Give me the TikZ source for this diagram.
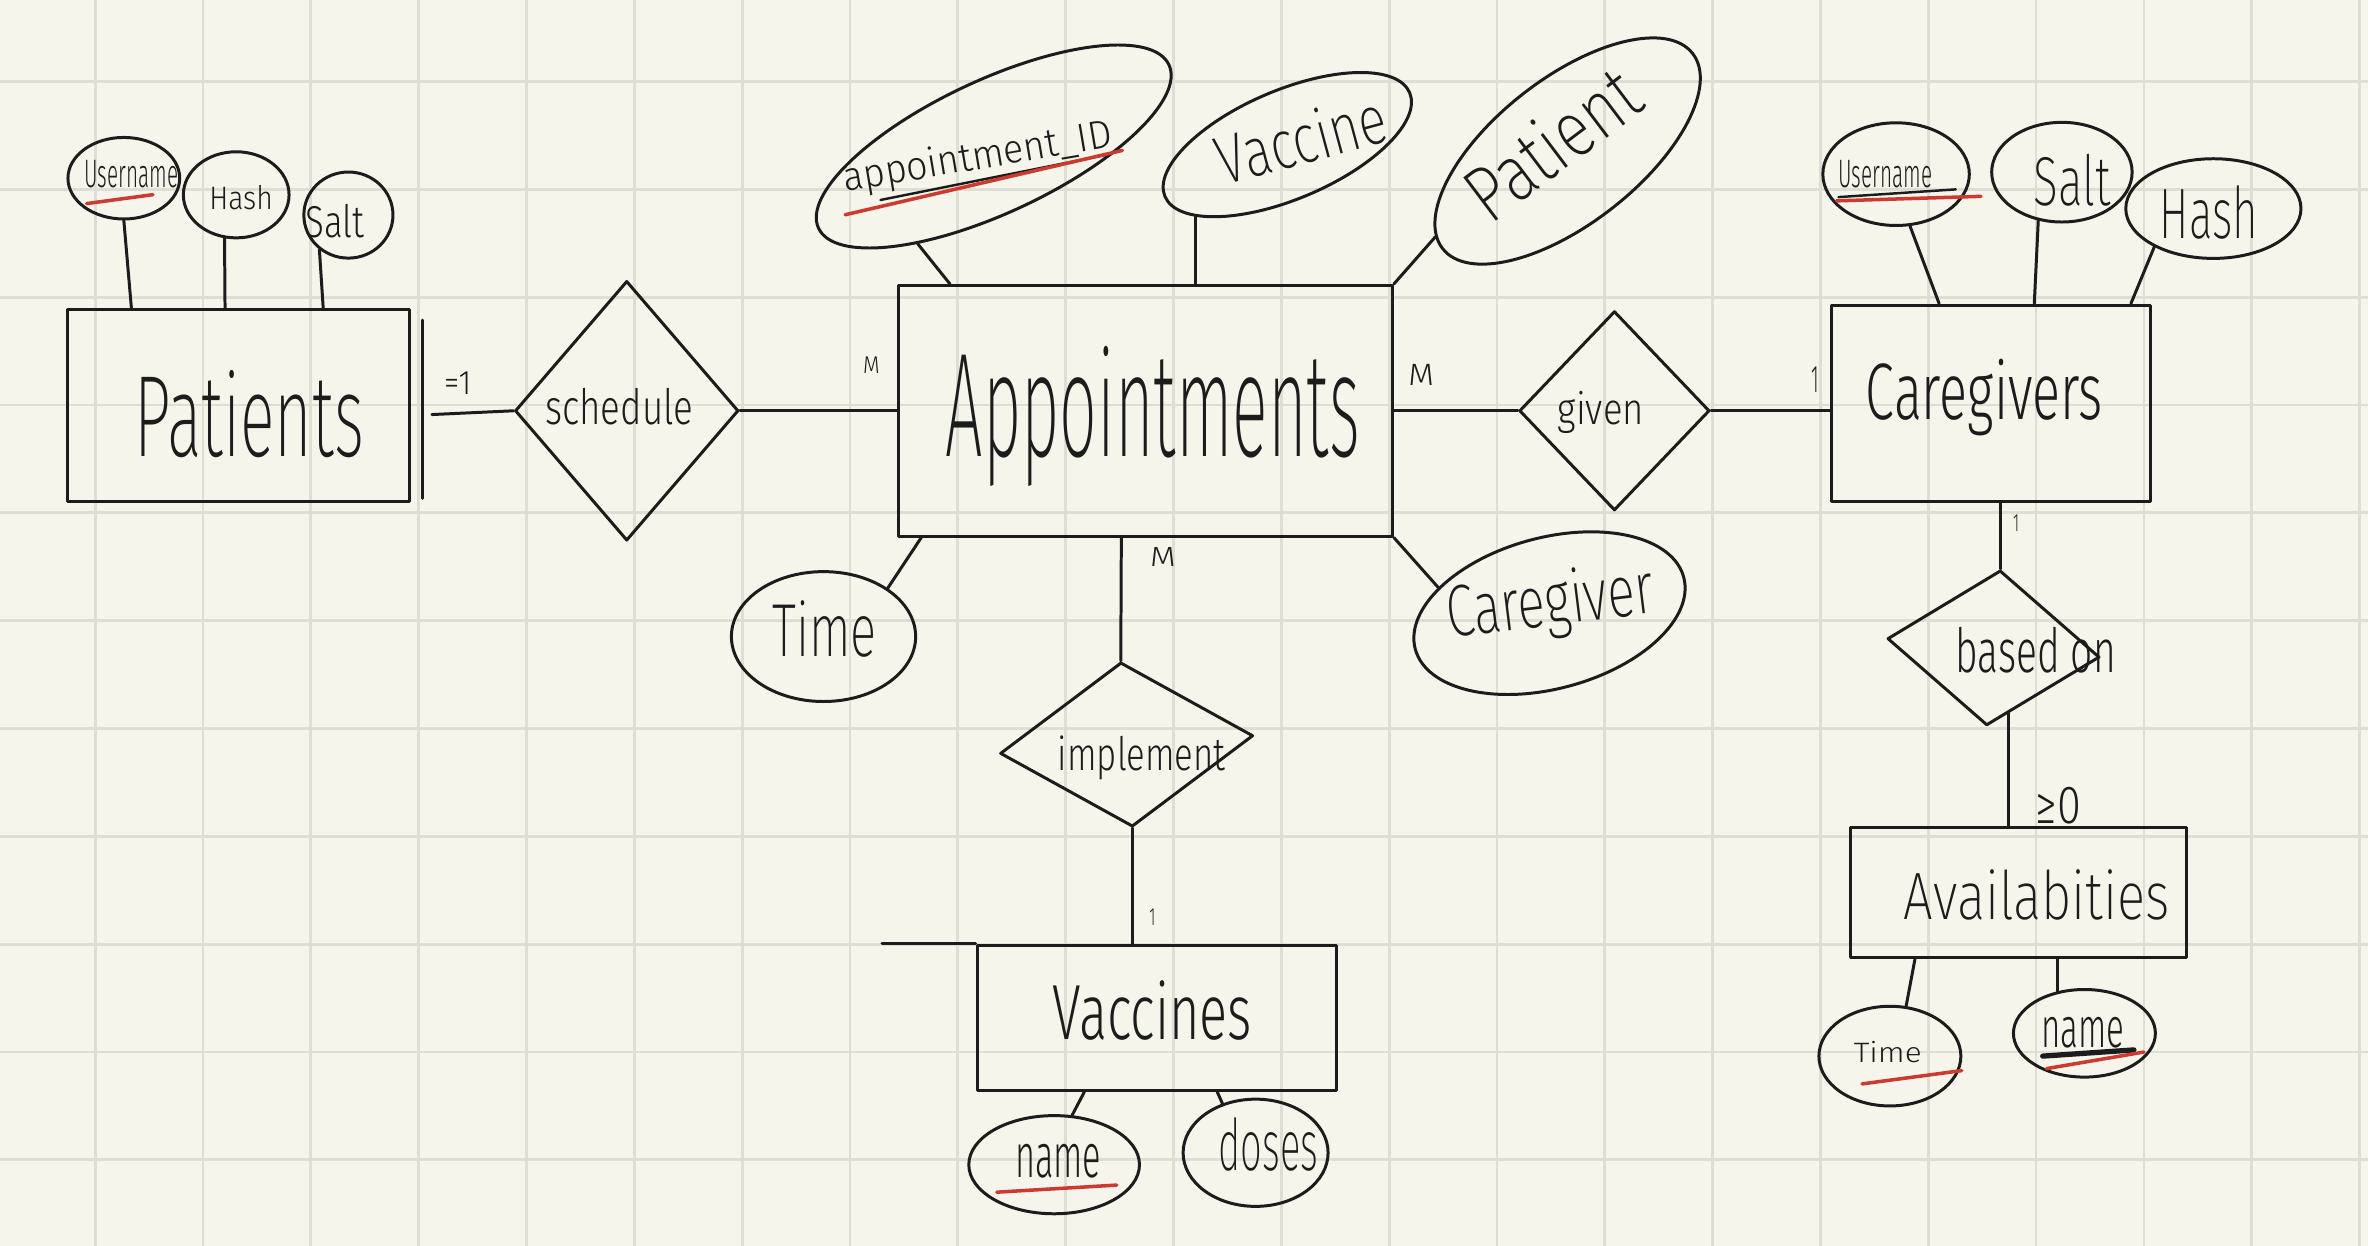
\documentclass[tikz,border=0pt]{standalone}
\usepackage{fontspec}
\usepackage{graphicx}
\usetikzlibrary{shapes.geometric}
\setmainfont{Fira Sans}
\newcommand{\pickfont}[3]{\IfFontExistsTF{#2}{\newfontfamily#1{#2}}{#3}}
\pickfont\fLight{Fira Sans Light}{%
 \pickfont\fLight{FiraSans-Light.otf}{%
  \pickfont\fLight{Lato Light}{%
   \pickfont\fLight{Poppins Light}{%
    \pickfont\fLight{DejaVu Sans ExtraLight}{%
     \newfontfamily\fLight{Fira Sans}}}}}}
\pickfont\fXL{Fira Sans ExtraLight}{%
 \pickfont\fXL{FiraSans-ExtraLight.otf}{%
  \pickfont\fXL{Lato Thin}{%
   \pickfont\fXL{Poppins ExtraLight}{%
    \pickfont\fXL{DejaVu Sans ExtraLight}{%
     \let\fXL\fLight}}}}}
\newlength{\pxu}\setlength{\pxu}{0.015102cm}
\newcommand{\hw}[3]{\resizebox{#1\pxu}{#2\pxu}{#3}}
\definecolor{paper}{HTML}{F6F5EC}
\definecolor{gridc}{HTML}{DFDED4}
\definecolor{inkc}{HTML}{1C1C1C}
\definecolor{redc}{HTML}{CC3A30}
\tikzset{
 pen/.style={draw=inkc, line width=0.85pt, line cap=round, line join=round},
 entity/.style={pen, rectangle, inner sep=0pt},
 rel/.style={pen, diamond, inner sep=0pt},
 attr/.style={pen, ellipse, inner sep=0pt},
 txt/.style={inner sep=0pt, anchor=base, text=inkc},
 conn/.style={pen},
 keyred/.style={draw=redc, line width=1pt, line cap=round},
 keyblk/.style={draw=inkc, line width=0.7pt, line cap=round},
 gridline/.style={draw=gridc, line width=0.8pt},
 sz/.style 2 args={minimum width=#1*\pxu, minimum height=#2*\pxu},
}
\begin{document}
\begin{tikzpicture}[x=0.015102cm, y=-0.015102cm]
\useasboundingbox (0,0) rectangle (1568,825);
\fill[paper] (0,0) rectangle (1568,825);
\foreach \i in {0,...,21} \draw[gridline] ({63+71.4*\i},0) -- ({63+71.4*\i},825);
\foreach \j in {0,...,10} \draw[gridline] (0,{54+71.4*\j}) -- (1568,{54+71.4*\j});

% entities
\node[entity, sz={226}{127}] (patients) at (158,268.5) {};
\node[entity, sz={327}{166}] (appts) at (758.5,272) {};
\node[entity, sz={211}{130}] (caregivers) at (1318.5,267) {};
\node[entity, sz={223}{86}] (avail) at (1336.5,591) {};
\node[entity, sz={238}{96}] (vaccines) at (766,674) {};

% relationships
\node[rel, sz={148}{172}] (sched) at (415,272) {};
\node[rel, sz={126}{132}] (given) at (1069,272) {};
\node[rel, sz={141}{103}, rotate=-5] (based) at (1320,429) {};
\node[rel, sz={168}{109}, rotate=4] (impl) at (746,493) {};

% attributes
\node[attr, sz={74}{54}] (pUser) at (82,118) {};
\node[attr, sz={70}{57}] (pHash) at (156.4,129) {};
\node[attr, sz={59}{57}] (pSalt) at (230.7,142.4) {};
\node[attr, sz={256}{88}, rotate=25] (aID) at (658,97) {};
\node[attr, sz={176}{72}, rotate=23] (aVacc) at (852.4,95.75) {};
\node[attr, sz={210}{96}, rotate=38] (aPat) at (1038,100) {};
\node[attr, sz={122}{86}] (aTime) at (545.3,421.5) {};
\node[attr, sz={184}{100}, rotate=15] (aCare) at (1026,406) {};
\node[attr, sz={97}{68}] (cUser) at (1255.5,115.3) {};
\node[attr, sz={93}{66}] (cSalt) at (1365.3,114) {};
\node[attr, sz={116}{66}] (cHash) at (1465.6,138.1) {};
\node[attr, sz={94}{66}] (avTime) at (1251.4,699.3) {};
\node[attr, sz={94}{58}] (avName) at (1380.2,684.2) {};
\node[attr, sz={113}{65}] (vName) at (698,771.2) {};
\node[attr, sz={96}{71}] (vDoses) at (831.4,763.3) {};

% texts
\node[txt] (tPatients) at (165,302) {\fXL\hw{152}{57}{Patients}};
\node[txt] (tSched) at (410,281) {\fLight\hw{98}{24}{schedule}};
\node[txt] (tAppts) at (763.4,302) {\fXL\hw{274}{73}{Appointments}};
\node[txt] (tGiven) at (1060,281) {\fLight\hw{57}{22}{given}};
\node[txt] (tCare) at (1314,277.5) {\fLight\hw{157}{40}{Caregivers}};
\node[txt] (tBased) at (1348,445) {\fLight\hw{106}{30}{based on}};
\node[txt] (tAvail) at (1348.6,608.7) {\fXL\hw{176}{33}{Availabities}};
\node[txt] (tImpl) at (756,510) {\fLight\hw{111}{23}{implement}};
\node[txt] (tVacc) at (763,688.6) {\fLight\hw{132}{39}{Vaccines}};
\node[txt] (tPUser) at (87,124) {\fLight\hw{62}{18}{Username}};
\node[txt] (tPHash) at (159.6,138.5) {\fLight\hw{42}{16}{Hash}};
\node[txt] (tPSalt) at (222,157) {\fLight\hw{39}{22}{Salt}};
\node[txt, rotate=9.6] (tAID) at (648.6,112) {\fLight\hw{180}{20}{appointment\_ID}};
\node[txt, rotate=15] (tAVacc) at (866,108) {\fXL\hw{115}{34}{Vaccine}};
\node[txt, rotate=37] (tAPat) at (1039,110) {\fXL\hw{130}{39}{Patient}};
\node[txt] (tATime) at (546,435) {\fXL\hw{69}{37}{Time}};
\node[txt, rotate=7] (tACare) at (1028,414) {\fXL\hw{138}{36}{Caregiver}};
\node[txt] (tCUser) at (1248.4,124) {\fLight\hw{62}{18}{Username}};
\node[txt] (tCSalt) at (1372,136) {\fXL\hw{51}{34}{Salt}};
\node[txt] (tCHash) at (1462.7,158) {\fXL\hw{65}{35}{Hash}};
\node[txt] (tAvTime) at (1250,703.4) {\fLight\hw{45}{14}{Time}};
\node[txt] (tAvName) at (1379,693.8) {\fLight\hw{55}{20}{name}};
\node[txt] (tVName) at (700.7,780) {\fLight\hw{57}{22}{name}};
\node[txt] (tVDoses) at (840,775.3) {\fXL\hw{66}{35}{doses}};

% cardinality labels
\node[txt] (l1) at (303,261) {\fLight\hw{18}{15}{=1}};
\node[txt] (l2) at (577,247) {\fLight\hw{11}{11}{M}};
\node[txt] (l3) at (941,255) {\fLight\hw{17}{14}{M}};
\node[txt] (l4) at (1202,259.6) {\fLight\hw{5}{17}{1}};
\node[txt] (l5) at (770,375) {\fLight\hw{17}{12.6}{M}};
\node[txt] (l6) at (763,613) {\fLight\hw{4}{11}{1}};
\node[txt] (l7) at (1335,352) {\fLight\hw{4}{11}{1}};
\node[txt] (l8) at (1363,545) {\fLight\hw{30}{24}{≥0}};

% extra hand-drawn strokes of the boxes
\draw[pen] ([shift={(8,8)}]patients.north east) -- ([shift={(8,-3)}]patients.south east);
\draw[pen] ([shift={(-62,0)}]vaccines.north west) -- (vaccines.north west);

% connectors
\draw[conn] (pUser.south) -- ([shift={(43,0)}]patients.north west);
\draw[conn] (pHash.255) -- ([shift={(105,0)}]patients.north west);
\draw[conn] (pSalt.230) -- ([shift={(170,0)}]patients.north west);
\draw[conn] ([shift={(14,6)}]patients.east) -- (sched.west);
\draw[conn] (sched.east) -- (appts.west);
\draw[conn] (appts.east) -- (given.west);
\draw[conn] (given.east) -- (given.east -| caregivers.west);
\draw[conn] ([shift={(-16,0)}]appts.south) -- (impl.north);
\draw[conn] (impl.south) -- (impl.south |- vaccines.north);
\draw[conn] (caregivers.south -| based.north) -- (based.north);
\draw[conn] (based.-72) -- (based.-72 |- avail.north);
\draw[conn] (avTime.72) -- ([shift={(44,0)}]avail.south west);
\draw[conn] (avName.123) -- (avName.123 |- avail.south);
\draw[conn] (vName.70) -- ([shift={(72,0)}]vaccines.south west);
\draw[conn] (vDoses.124) -- ([shift={(160,0)}]vaccines.south west);
\draw[conn] (aID.207) -- ([shift={(35,0)}]appts.north west);
\draw[conn] (aVacc.195) -- (aVacc.195 |- appts.north);
\draw[conn] (aPat.175) -- (appts.north east);
\draw[conn] (aTime.37) -- ([shift={(16,0)}]appts.south west);
\draw[conn] (appts.south east) -- (aCare.152);
\draw[conn] (cUser.-75) -- ([shift={(72,0)}]caregivers.north west);
\draw[conn] (cSalt.244) -- ([shift={(135,0)}]caregivers.north west);
\draw[conn] (cHash.213) -- ([shift={(-14,0)}]caregivers.north east);

% key underlines
\draw[keyred] (57.4,134.8) -- (101.3,128.9);
\draw[keyblk] (583,132.4) -- (736.3,101.8);
\draw[keyred] (559.6,142.2) -- (743.2,99.6);
\draw[keyblk] (1217.4,130.5) -- (1295,125.4);
\draw[keyred] (1216,133) -- (1311.7,130);
\draw[keyred] (1233,717.7) -- (1299,708.9);
\draw[keyblk, line width=1.5pt] (1352.6,699.3) -- (1413,695.2);
\draw[keyred] (1355,707.6) -- (1419.6,696.6);
\draw[keyred] (660,789.4) -- (739.5,784.7);
\end{tikzpicture}
\end{document}
